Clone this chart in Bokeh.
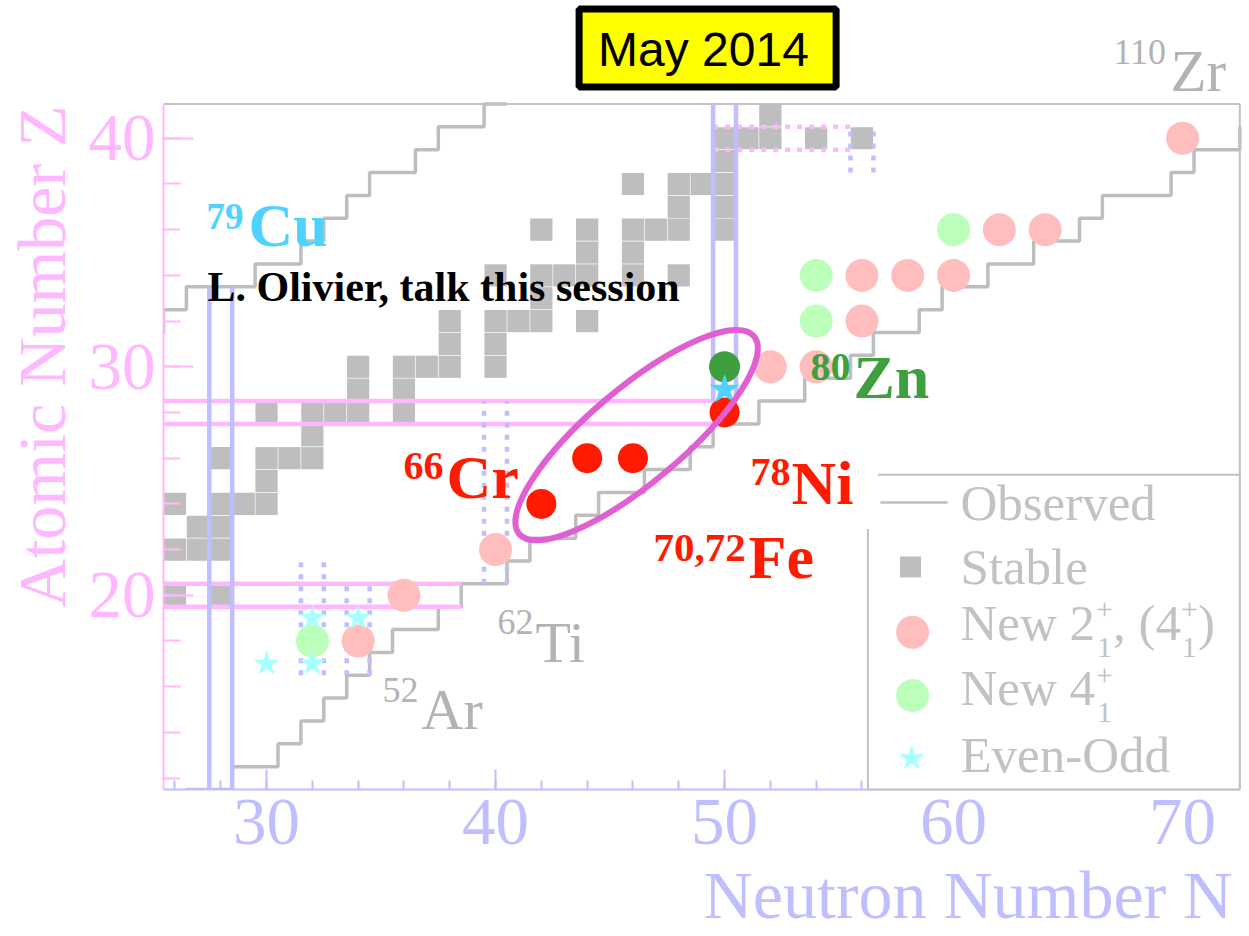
import numpy as np
from bokeh.plotting import figure
from bokeh.models import Range1d, FixedTicker, LinearAxis, BoxAnnotation
from bokeh.core.properties import value
from bokeh.embed import file_html
from bokeh.resources import INLINE

SERIF = "Liberation Serif"
SANS = "Liberation Sans"
PINK = "#ffb8ff"
BLUE = "#bfbfff"
GRAY = "#bebebe"
LGRAY = "#c2c2c2"
TGRAY = "#b3b3b3"
RED = "#ff1a00"
GREEN = "#3d9f3d"
CYAN = "#4fd2ff"
MAGENTA = "#e05fd2"
PINK_DOT = "#ffbdbd"
GREEN_DOT = "#bbffbb"
CYAN_STAR = "#a8ffff"

# ---------------- data ----------------
# stable nuclei (proton number Z, neutron number N)
stable_Z = [20, 20, 22, 22, 22, 23, 23, 24, 24, 24, 24, 25,
            26, 26, 26, 26, 27, 28, 28, 28, 28, 28, 29, 29,
            30, 30, 30, 30, 30, 31, 31, 32, 32, 32, 32, 32, 33,
            34, 34, 34, 34, 34, 34, 35, 35,
            36, 36, 36, 36, 36, 36, 37, 37, 38, 38, 38, 38, 39,
            40, 40, 40, 40, 40, 41]
stable_N = [26, 28, 26, 27, 28, 27, 28, 26, 28, 29, 30, 30,
            28, 30, 31, 32, 32, 30, 32, 33, 34, 36, 34, 36,
            34, 36, 37, 38, 40, 38, 40, 38, 40, 41, 42, 44, 42,
            40, 42, 43, 44, 46, 48, 44, 46,
            42, 44, 46, 47, 48, 50, 48, 50, 46, 48, 49, 50, 50,
            50, 51, 52, 54, 56, 52]

# limits of observed nuclei for each element
nrich_Z = list(range(11, 41))
nrich_Nmax = [26, 28, 30, 31, 32, 33, 34, 35, 37, 38, 40, 41, 43, 44, 46,
              48, 49, 51, 53, 55, 56, 58, 59, 61, 63, 65, 66, 69, 70, 72]
prich_Z = list(range(31, 43))
prich_Nmin = [25, 26, 27, 30, 32, 33, 34, 35, 37, 38, 40, 41]

# new spectroscopy results
new2_N = [34, 36, 40, 52, 54, 56, 56, 58, 60, 62, 64, 70]
new2_Z = [18, 20, 22, 30, 30, 32, 34, 34, 34, 36, 36, 40]
new4_N = [32, 54, 54, 60]
new4_Z = [18, 32, 34, 36]
evenodd_N = [30, 32, 32, 34]
evenodd_Z = [17, 17, 19, 19]

# highlighted nuclei given as mass number A and proton number Z
red_A = [66, 70, 72, 78]
red_Z = [24, 26, 26, 28]
zn_A, zn_Z = [80], [30]
cu_A, cu_Z = [79], [29]

# shell closures
magicZ = [20, 28]
magicZ_from = [25.5, 25.5]
magicZ_to = [38.5, 49.5]
subZ = [40]
subZ_from = [49.5]
subZ_to = [55.5]
magicN = [28, 50]
magicN_from = [11.5, 28.5]
magicN_to = [33.5, 41.5]
subN = [32, 34, 40, 56]
subN_from = [16.5, 16.5, 20.5, 38.5]
subN_to = [21.5, 20.5, 28.5, 40.5]

x_ticks = [30, 40, 50, 60, 70]
y_ticks = [20, 30, 40]

# ---------------- figure ----------------
N_LO, N_HI = 25.5, 72.5
Z_LO, Z_HI = 11.5, 41.5
PX_N, PX_Z = 22.9, 22.85
W, H = 1249, 936
LEFT, BOTTOM = 163, 147
EM_DROP = 0.37   # the renderer sets the alphabetic baseline this many em below the anchor

p = figure(width=W, height=H, output_backend="svg", toolbar_location=None,
           x_range=Range1d(N_LO, N_LO + (W - LEFT) / PX_N),
           y_range=Range1d(Z_LO, Z_LO + (H - BOTTOM) / PX_Z),
           min_border_left=LEFT, min_border_bottom=BOTTOM,
           min_border_top=0, min_border_right=0)
p.outline_line_color = None
p.grid.visible = False
p.background_fill_color = "white"
p.border_fill_color = "white"


def put(xs, zs, texts, size, color, style="normal", align="left", level="glyph",
        font=SERIF):
    """Text whose alphabetic baseline sits at the given Z values."""
    ys = [z + EM_DROP * size / PX_Z for z in zs]
    p.text(x=xs, y=ys, text=texts, text_font=value(font),
           text_font_size=value(f"{size}px"), text_font_style=style,
           text_color=color, text_align=align, text_baseline="alphabetic",
           level=level)


# stable nuclei
p.rect(x=stable_N, y=stable_Z, width=0.97, height=0.97,
       fill_color=GRAY, line_color=None)


def outline(zs, ns, side):
    xs, ys = [], []
    for z, n in zip(zs, ns):
        xs += [n + side, n + side]
        ys += [z - 0.5, z + 0.5]
    return np.minimum(xs, N_HI), np.minimum(ys, Z_HI)


for zs, ns, side in [(nrich_Z, nrich_Nmax, 0.5), (prich_Z, prich_Nmin, -0.5)]:
    xs, ys = outline(zs, ns, side)
    p.line(xs, ys, line_color=GRAY, line_width=3.5)

# plot box (top / right)
p.segment(x0=[N_LO, N_HI], y0=[Z_HI, Z_LO], x1=[N_HI, N_HI], y1=[Z_HI, Z_HI],
          line_color=LGRAY, line_width=2)


def hlines(zs, n0, n1):
    ys = [z + d for z in zs for d in (-0.5, 0.5)]
    a = [v for v in n0 for _ in (0, 1)]
    b = [v for v in n1 for _ in (0, 1)]
    return a, ys, b, ys


def vlines(ns, z0, z1):
    xs = [n + d for n in ns for d in (-0.5, 0.5)]
    a = [v for v in z0 for _ in (0, 1)]
    b = [v for v in z1 for _ in (0, 1)]
    return xs, a, xs, b


x0, y0, x1, y1 = hlines(magicZ, magicZ_from, magicZ_to)
p.segment(x0=x0, y0=y0, x1=x1, y1=y1, line_color=PINK, line_width=4.5)
x0, y0, x1, y1 = hlines(subZ, subZ_from, subZ_to)
p.segment(x0=x0, y0=y0, x1=x1, y1=y1, line_color=PINK, line_width=4.5,
          line_dash="5 7")
x0, y0, x1, y1 = vlines(magicN, magicN_from, magicN_to)
p.segment(x0=x0, y0=y0, x1=x1, y1=y1, line_color=BLUE, line_width=4.5)
x0, y0, x1, y1 = vlines(subN, subN_from, subN_to)
p.segment(x0=x0, y0=y0, x1=x1, y1=y1, line_color=BLUE, line_width=4.5,
          line_dash="5 7")

# new results
p.scatter(new2_N, new2_Z, marker="circle", size=33, fill_color=PINK_DOT, line_color=None)
p.scatter(new4_N, new4_Z, marker="circle", size=33, fill_color=GREEN_DOT, line_color=None)
p.scatter(evenodd_N, evenodd_Z, marker="star", size=27, fill_color=CYAN_STAR, line_color=None)

red_N = [a - z for a, z in zip(red_A, red_Z)]
zn_N = [a - z for a, z in zip(zn_A, zn_Z)]
cu_N = [a - z for a, z in zip(cu_A, cu_Z)]
p.scatter(red_N, red_Z, marker="circle", size=30, fill_color=RED, line_color=None)
p.scatter(zn_N, zn_Z, marker="circle", size=31, fill_color=GREEN, line_color=None)
p.scatter(cu_N, cu_Z, marker="star", size=32, fill_color=CYAN, line_color=None)

# region of interest
p.ellipse(x=[46.16], y=[27.01], width=[307], height=[94], angle=0.70,
          width_units="screen", height_units="screen",
          fill_color=None, line_color=MAGENTA, line_width=6)


def iso(xs, zs, sup, xm, zm, sym, color, s_sup, s_sym, style="bold"):
    put([xs], [zs], [sup], s_sup, color, style)
    put([xm], [zm], [sym], s_sym, color, style)


iso(27.38, 35.96, "79", 29.21, 35.18, "Cu", CYAN, 37, 62)
put([27.42], [32.81], ["L. Olivier, talk this session"], 42, "black", "bold")
iso(35.98, 25.02, "66", 37.86, 24.19, "Cr", RED, 40, 62)
iso(51.13, 24.73, "78", 52.92, 23.93, "Ni", RED, 40, 62)
iso(46.90, 21.39, "70,72", 51.05, 20.65, "Fe", RED, 41, 62)
iso(53.75, 29.36, "80", 55.63, 28.57, "Zn", GREEN, 40, 62)
iso(66.98, 43.19, "110", 69.47, 42.00, "Zr", TGRAY, 36, 59, style="normal")
iso(40.09, 18.24, "62", 41.74, 17.01, "Ti", TGRAY, 36, 58, style="normal")
iso(35.06, 15.26, "52", 36.77, 14.08, "Ar", TGRAY, 36, 58, style="normal")

# ---------------- axes ----------------
xa = p.xaxis[0]
xa.ticker = FixedTicker(ticks=x_ticks, minor_ticks=list(range(26, 73, 2)))
xa.bounds = (N_LO, N_HI)
xa.axis_line_color = BLUE
xa.axis_line_width = 2
xa.major_tick_line_color = BLUE
xa.major_tick_line_width = 2
xa.minor_tick_line_color = BLUE
xa.minor_tick_line_width = 2
xa.major_tick_in = 20
xa.major_tick_out = 0
xa.minor_tick_in = 9
xa.minor_tick_out = 0
xa.major_label_text_font = SERIF
xa.major_label_text_font_size = "67px"
xa.major_label_text_color = BLUE
xa.major_label_standoff = 10

ya = p.yaxis[0]
ya.ticker = FixedTicker(ticks=y_ticks, minor_ticks=list(range(12, 41, 2)))
ya.bounds = (Z_LO, Z_HI)
ya.axis_line_color = PINK
ya.axis_line_width = 2
ya.major_tick_line_color = PINK
ya.major_tick_line_width = 2
ya.minor_tick_line_color = PINK
ya.minor_tick_line_width = 2
ya.major_tick_in = 30
ya.major_tick_out = 0
ya.minor_tick_in = 17
ya.minor_tick_out = 0
ya.major_label_text_font = SERIF
ya.major_label_text_font_size = "67px"
ya.major_label_text_color = PINK
ya.major_label_standoff = 8


# axis titles: label-only axes stacked outside the tick labels, each title
# centred on one tick so that it runs to the far end of the plot box
def title_axis(text, color, at, standoff, orientation="horizontal"):
    return LinearAxis(ticker=FixedTicker(ticks=[at]), major_label_overrides={at: text},
                      major_label_standoff=standoff, major_label_orientation=orientation,
                      major_label_text_font=SERIF, major_label_text_font_size="68px",
                      major_label_text_color=color,
                      axis_line_color=None, major_tick_line_color=None,
                      minor_tick_line_color=None, major_tick_out=0, minor_tick_out=0,
                      major_tick_in=0, minor_tick_in=0)


p.add_layout(title_axis("Atomic Number Z", PINK, 30.45, 5, "vertical"), "left")
p.add_layout(title_axis("Neutron Number N", BLUE, 60.63, 10), "below")

# ---------------- legend ----------------
LG_L, LG_T = 56.26, 25.28
p.add_layout(BoxAnnotation(left=LG_L, right=N_HI, bottom=Z_LO, top=LG_T,
                           fill_color="white", fill_alpha=1.0, line_color=None))
p.segment(x0=[56.7, LG_L, LG_L], y0=[LG_T, Z_LO, 22.9], x1=[N_HI, N_HI, LG_L],
          y1=[LG_T, Z_LO, Z_LO], line_color=LGRAY, line_width=2, level="overlay")
p.segment(x0=[N_HI], y0=[Z_LO], x1=[N_HI], y1=[LG_T], line_color=LGRAY,
          line_width=2, level="overlay")
p.segment(x0=[56.81], y0=[24.06], x1=[59.74], y1=[24.06], line_color=GRAY,
          line_width=2.5, level="overlay")
p.scatter([58.12], [21.24], marker="square", size=21, fill_color=GRAY,
          line_color=None, level="overlay")
p.scatter([58.21], [18.38], marker="circle", size=33, fill_color=PINK_DOT,
          line_color=None, level="overlay")
p.scatter([58.21], [15.61], marker="circle", size=33, fill_color=GREEN_DOT,
          line_color=None, level="overlay")
p.scatter([58.17], [12.86], marker="star", size=27, fill_color=CYAN_STAR,
          line_color=None, level="overlay")

LX = 60.30
rows_text = ["Observed", "Stable", "New 2", "New 4", "Even-Odd"]
rows_y = [23.20, 20.43, 17.95, 15.10, 12.20]
put([LX] * 5, rows_y, rows_text, 51, LGRAY, level="overlay")
# spin-parity super/subscripts and the rest of the 2+ row
SUP, SUB = 0.92, -0.70
small_x = [66.22, 66.26, 69.93, 69.97, 66.22, 66.26]
small_y = [17.95 + SUP, 17.95 + SUB, 17.95 + SUP, 17.95 + SUB, 15.10 + SUP, 15.10 + SUB]
small_t = ["+", "1", "+", "1", "+", "1"]
put(small_x, small_y, small_t, 30, LGRAY, level="overlay")
put([66.96, 68.82, 70.67], [17.95] * 3, [", (", "4", ")"], 51, LGRAY, level="overlay")

# ---------------- date badge ----------------
p.rect(x=[49.26], y=[43.95], width=[257], height=[78], width_units="screen",
       height_units="screen", fill_color="#ffff00", line_color="black", line_width=7,
       level="overlay")
put([49.08], [43.10], ["May 2014"], 48, "black", align="center", level="overlay",
    font=SANS)

open("out.html", "w").write(file_html(p, INLINE))
